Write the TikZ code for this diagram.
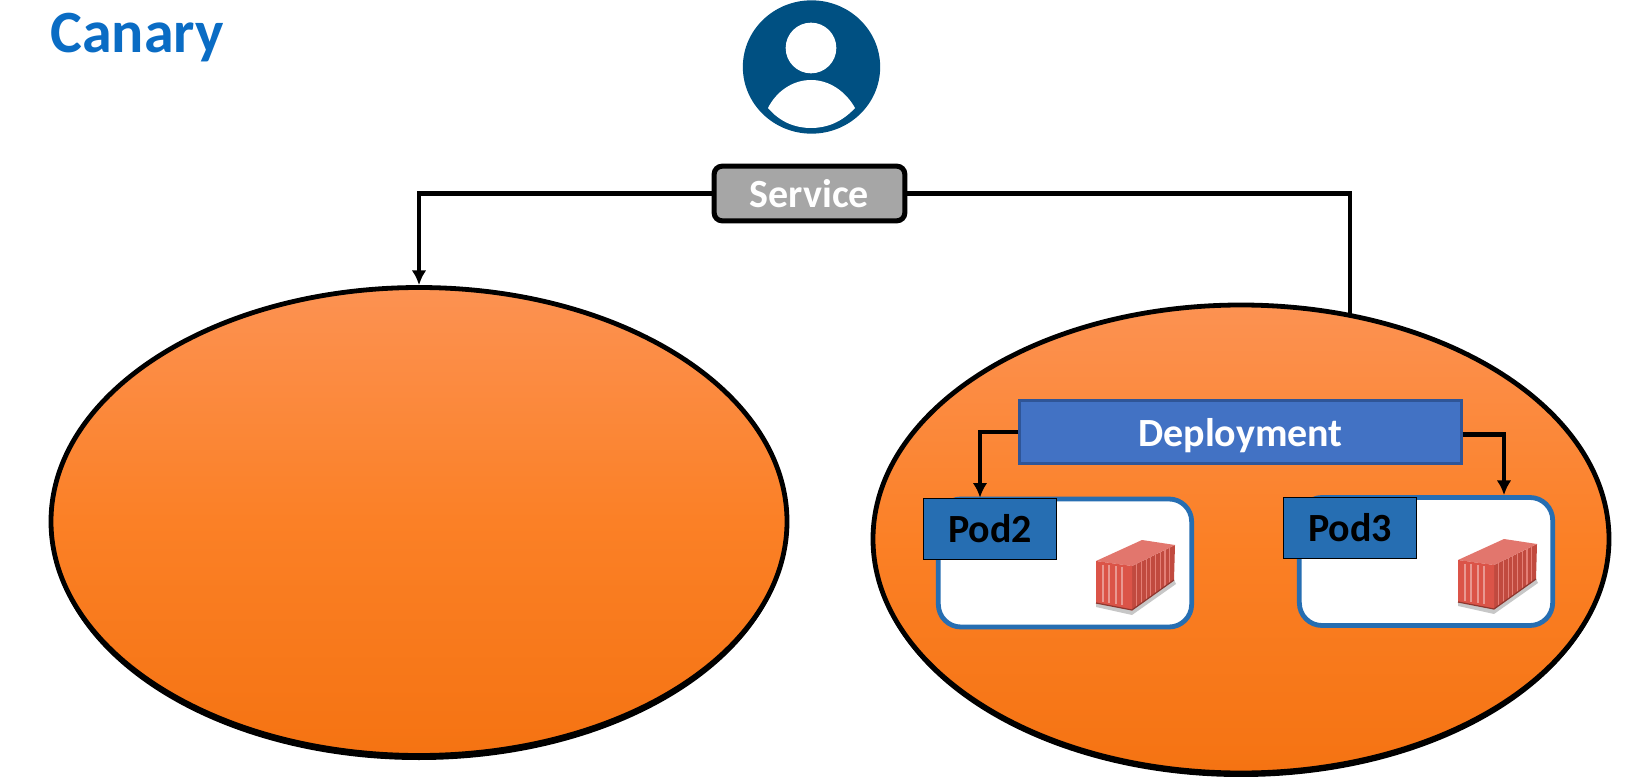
\documentclass[tikz,border=0pt]{standalone}
\usepackage{fontspec}
\setmainfont{Carlito}
\usetikzlibrary{arrows.meta,shapes.geometric}

\definecolor{titleblue}{RGB}{10,108,196}
\definecolor{userblue}{RGB}{0,80,130}
\definecolor{poolTop}{RGB}{252,146,82}
\definecolor{poolMid}{RGB}{251,128,38}
\definecolor{poolBottom}{RGB}{245,115,18}
\definecolor{deployblue}{RGB}{66,114,196}
\definecolor{deployedge}{RGB}{47,85,151}
\definecolor{podblue}{RGB}{38,110,178}
\definecolor{boxred}{RGB}{219,84,72}

\tikzset{
	every picture/.style={line width=0.75pt},
	pool/.style={ellipse,draw=black,line width=3.6pt,top color=poolTop,bottom color=poolBottom,middle color=poolMid,minimum width=552pt,minimum height=351pt,inner sep=0pt},
	poolshade/.style={ellipse,fill=black,minimum width=552pt,minimum height=351pt,inner sep=0pt},
	wire/.style={draw=black,line width=3.4pt},
	arrowwire/.style={wire,-{Latex[length=11pt,width=11pt]}},
	card/.style={draw=podblue,line width=3.6pt,fill=white,rounded corners=17pt,minimum width=190pt,minimum height=96pt,inner sep=0pt},
	podtag/.style={draw=black,line width=1pt,fill=podblue,minimum width=100pt,minimum height=46pt,inner sep=0pt,font=\fontsize{30}{30}\bfseries\selectfont},
	container/.pic={
		%shadow
		\fill [black!22] (0,42) -- (36,49) -- (78,19) -- (80,23) -- (36,54) -- (0,46) -- cycle ;
		%side
		\fill [boxred!88!black] (36,5) -- (79,-16) -- (78,19) -- (36,49) -- cycle ;
		\foreach \k in {1,...,8}
			\draw [boxred!75!white,line width=0.9pt] ({36+\k*4.7},{5-\k*2.33}) -- ({36+\k*4.7},{49-\k*3.3}) ;
		%top
		\fill [boxred!80!white] (0,0) -- (46,-21) -- (79,-16) -- (36,5) -- cycle ;
		%front
		\fill [boxred] (0,0) -- (36,5) -- (36,49) -- (0,42) -- cycle ;
		\foreach \d in {7,13,20,26}
			\draw [boxred!60!white,line width=1pt] (\d,{3+\d*0.1}) -- (\d,{40+\d*0.17}) ;
		\draw [boxred!65!black,line width=0.9pt] (0,42) -- (36,49) -- (78,19) ;
	}
}

\begin{document}
\begin{tikzpicture}[x=0.75pt,y=0.75pt,yscale=-1,xscale=1]
	\useasboundingbox (0,0) rectangle (1625,777);

	% Title
	\node [anchor=base west,inner sep=0pt,text=titleblue,font=\fontsize{45}{45}\bfseries\selectfont] (title) at (50,53) {Canary};

	% User icon
	\node [ellipse,fill=userblue,minimum width=103pt,minimum height=100pt,inner sep=0pt] (user) at (811.5,67) {};
	\node [circle,fill=white,minimum size=38pt,inner sep=0pt] (head) at (811,48) {};
	\fill [white] (768,108) .. controls (776,92) and (792,80) .. (811,80) .. controls (830,80) and (846,92) .. (855,108) .. controls (842,122) and (827,128) .. (811,128) .. controls (795,128) and (780,122) .. (768,108) -- cycle ;

	% Right stub goes first so the pool covers its end
	\coordinate (rightentry) at (1350,320);
	\node [poolshade] (leftshade) at (419,526) {};
	\node [pool] (leftpool) at (419,521.5) {};
	\node [draw=black,line width=3.8pt,fill=black!35,rounded corners=6pt,minimum width=143pt,minimum height=41pt,inner sep=0pt,text=white,font=\fontsize{30}{30}\bfseries\selectfont] (service) at (809.5,193.5) {Service};
	\draw [wire] (service.east) -| (rightentry);
	\draw [arrowwire] (service.west) -| (leftpool.north);
	\node [poolshade] (rightshade) at (1241,543) {};
	\node [pool] (rightpool) at (1241,539) {};

	% Deployment
	\node [draw=deployedge,line width=2.2pt,fill=deployblue,minimum width=331pt,minimum height=47pt,inner sep=0pt,text=white,text depth=0pt,font=\fontsize{30}{30}\bfseries\selectfont] (deployment) at (1240.5,432) {Deployment};

	% Pods
	\node [card] (pod2card) at (1065,563) {};
	\node [podtag] (pod2) at (990,529) {Pod2\hspace{3pt}};
	\node [card] (pod3card) at (1426,561.5) {};
	\node [podtag] (pod3) at (1350,528) {Pod3\hspace{2pt}};
	\draw [arrowwire] (deployment.west) -| ([xshift=-7.5pt]pod2.north);
	\draw [arrowwire] ([yshift=2pt]deployment.east) -| ([xshift=58.5pt]pod3card.north);

	% Containers
	\pic [yscale=-1] at (1096,561) {container};
	\pic [yscale=-1] at (1458,560) {container};

\end{tikzpicture}
\end{document}
